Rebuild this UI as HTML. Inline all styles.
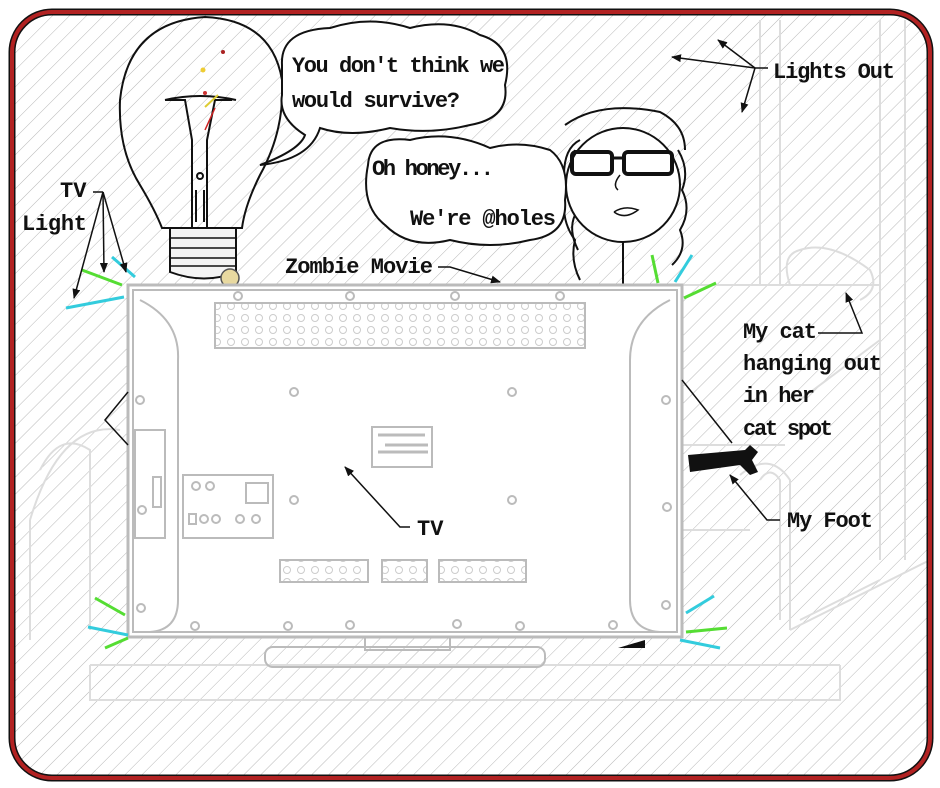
<!DOCTYPE html>
<html><head><meta charset="utf-8"><style>
html,body{margin:0;padding:0;background:#fff;}
svg{display:block}
text{font-family:"Liberation Mono","DejaVu Sans Mono",monospace;font-size:22px;fill:#111;font-weight:bold;}
</style></head><body>
<svg width="940" height="788" viewBox="0 0 940 788" xmlns="http://www.w3.org/2000/svg">
<defs>
<pattern id="h" width="12" height="12" patternUnits="userSpaceOnUse" patternTransform="rotate(45)">
<line x1="0" y1="0" x2="0" y2="12" stroke="#b8b8b8" stroke-width="1"/>
</pattern>
<pattern id="dots" width="14" height="12" patternUnits="userSpaceOnUse">
<circle cx="7" cy="6" r="3.5" fill="none" stroke="#ccc" stroke-width="1"/>
</pattern>
<marker id="a" markerWidth="10" markerHeight="8" refX="9" refY="4" orient="auto" markerUnits="userSpaceOnUse">
<path d="M0,0 L10,4 L0,8 z" fill="#111"/>
</marker>
</defs>
<rect x="0" y="0" width="940" height="788" fill="#fff"/>
<rect x="12" y="12" width="918" height="766" rx="40" fill="url(#h)"/>
<g fill="none" stroke="#ddd" stroke-width="2">
<path d="M30,520 L30,640 M30,520 Q60,420 120,430"/>
<path d="M40,470 Q60,430 90,450 L90,630"/>
<path d="M880,20 L880,560 M905,20 L905,560 M760,20 L760,285 M780,20 L780,285"/>
<path d="M680,285 L880,285"/>
<path d="M740,475 Q770,450 790,480 L790,630 M760,480 Q770,465 780,480 L780,620"/>
<path d="M680,445 L785,445 M680,530 L750,530"/>
<path d="M90,665 L90,700 L840,700 L840,665 M90,665 L840,665"/>
<path d="M800,400 L880,340 M800,620 L880,580 M790,630 L930,560"/>
</g>
<path d="M790,285 Q780,255 800,250 Q830,240 870,270 Q880,290 860,300" fill="none" stroke="#ddd" stroke-width="2"/>
<rect x="12" y="12" width="918" height="766" rx="40" fill="none" stroke="#111" stroke-width="7"/>
<rect x="12" y="12" width="918" height="766" rx="40" fill="none" stroke="#b22222" stroke-width="4"/>

<!-- bulb -->
<g fill="#fff" stroke="#111" stroke-width="2">
<path d="M162,228 Q155,210 140,185 Q118,150 120,100 Q128,22 205,17 Q272,20 282,80 Q285,130 260,175 Q245,205 242,228 Z" fill="none"/>
<path d="M165,100 L185,100 L192,140 L192,230 M232,100 L215,100 L207,140 L207,230" fill="none"/>
<path d="M165,100 Q200,92 236,100" fill="none"/>
<circle cx="200" cy="176" r="3" fill="none"/>
<line x1="196" y1="190" x2="196" y2="222"/><line x1="204" y1="190" x2="204" y2="222"/>
<path d="M170,228 L236,228 L236,272 Q205,285 170,272 Z" fill="#f4f4f4"/>
<path d="M170,238 L236,238 M170,248 L236,248 M170,258 L236,258 M170,266 L236,266" fill="none" stroke-width="1.5"/>
</g>
<circle cx="230" cy="278" r="9" fill="#e8d9a0" stroke="#555" stroke-width="1.5"/>
<g stroke="#c22" stroke-width="1.5"><line x1="205" y1="130" x2="215" y2="108"/></g>
<circle cx="223" cy="52" r="2" fill="#a22"/><circle cx="203" cy="70" r="2.5" fill="#ec3"/><circle cx="205" cy="93" r="2" fill="#c33"/>
<line x1="205" y1="107" x2="218" y2="95" stroke="#dc3" stroke-width="2"/>

<path d="M282,65 Q280,30 330,28 Q370,15 410,28 Q450,18 480,35 Q515,45 505,85 Q510,118 470,125 Q430,135 390,128 Q350,138 320,128 Q310,160 260,165 Q300,150 305,135 Q278,118 282,95 Z" fill="#fff" stroke="#111" stroke-width="2"/>
<text x="292" y="72" textLength="213">You don't think we</text>
<text x="292" y="107" textLength="168">would survive?</text>

<!-- hair -->
<g fill="none" stroke="#111" stroke-width="2">
<path d="M580,140 Q560,150 565,190 Q560,220 575,240 Q570,260 580,280"/>
<path d="M575,150 Q568,170 575,185 Q565,200 575,215 Q568,230 578,250"/>
<path d="M678,150 Q690,170 682,190 Q692,210 680,230 Q688,250 672,265"/>
<path d="M565,125 Q600,100 660,112 Q685,125 685,150"/>
</g>
<path d="M368,165 Q370,135 410,140 Q450,130 490,148 Q520,140 550,150 Q570,165 565,200 Q568,235 530,240 Q490,250 450,240 Q410,250 385,225 Q360,205 368,165 Z" fill="#fff" stroke="#111" stroke-width="2"/>
<text x="372" y="175" textLength="122">Oh honey...</text>
<text x="410" y="225" textLength="146">We're @holes</text>
<circle cx="623" cy="185" r="57" fill="#fff" stroke="#111" stroke-width="2"/>
<rect x="572" y="152" width="40" height="22" rx="4" fill="none" stroke="#111" stroke-width="4"/>
<rect x="624" y="152" width="48" height="22" rx="4" fill="none" stroke="#111" stroke-width="4"/>
<line x1="612" y1="158" x2="624" y2="158" stroke="#111" stroke-width="3"/>
<path d="M620,175 Q612,185 618,190" fill="none" stroke="#111" stroke-width="1.5"/>
<path d="M614,212 Q625,205 638,210 Q625,220 614,212" fill="none" stroke="#111" stroke-width="1.5"/>
<line x1="623" y1="242" x2="623" y2="285" stroke="#111" stroke-width="2"/>

<!-- TV -->
<rect x="128" y="285" width="554" height="352" fill="#fff" stroke="#bbb" stroke-width="3"/>
<rect x="133" y="290" width="544" height="342" fill="none" stroke="#bbb" stroke-width="2"/>
<path d="M140,300 Q180,320 178,360 L178,600 Q178,630 150,632" fill="none" stroke="#bbb" stroke-width="2"/>
<path d="M670,300 Q630,320 630,360 L630,600 Q630,630 660,632" fill="none" stroke="#bbb" stroke-width="2"/>
<rect x="215" y="303" width="370" height="45" fill="url(#dots)" stroke="#bbb" stroke-width="2"/>
<rect x="135" y="430" width="30" height="108" fill="none" stroke="#bbb" stroke-width="2"/>
<rect x="153" y="477" width="8" height="30" fill="none" stroke="#bbb" stroke-width="2"/>
<rect x="183" y="475" width="90" height="63" fill="none" stroke="#bbb" stroke-width="2"/>
<rect x="246" y="483" width="22" height="20" fill="none" stroke="#bbb" stroke-width="2"/>
<g fill="none" stroke="#bbb" stroke-width="2"><circle cx="196" cy="486" r="4"/><circle cx="210" cy="486" r="4"/><circle cx="204" cy="519" r="4"/><circle cx="216" cy="519" r="4"/><circle cx="240" cy="519" r="4"/><circle cx="256" cy="519" r="4"/><rect x="189" y="514" width="7" height="10"/></g>
<rect x="372" y="427" width="60" height="40" fill="none" stroke="#bbb" stroke-width="2"/>
<g stroke="#bbb" stroke-width="3"><line x1="378" y1="435" x2="425" y2="435"/><line x1="385" y1="445" x2="428" y2="445"/><line x1="378" y1="452" x2="428" y2="452"/></g>
<rect x="280" y="560" width="88" height="22" fill="url(#dots)" stroke="#bbb" stroke-width="2"/>
<rect x="382" y="560" width="45" height="22" fill="url(#dots)" stroke="#bbb" stroke-width="2"/>
<rect x="439" y="560" width="87" height="22" fill="url(#dots)" stroke="#bbb" stroke-width="2"/>
<g fill="none" stroke="#bbb" stroke-width="2">
<circle cx="238" cy="296" r="4"/><circle cx="350" cy="296" r="4"/><circle cx="455" cy="296" r="4"/><circle cx="560" cy="296" r="4"/>
<circle cx="294" cy="392" r="4"/><circle cx="512" cy="392" r="4"/><circle cx="294" cy="500" r="4"/><circle cx="512" cy="500" r="4"/>
<circle cx="140" cy="400" r="4"/><circle cx="142" cy="510" r="4"/><circle cx="141" cy="608" r="4"/>
<circle cx="666" cy="400" r="4"/><circle cx="667" cy="507" r="4"/><circle cx="666" cy="605" r="4"/>
<circle cx="195" cy="626" r="4"/><circle cx="288" cy="626" r="4"/><circle cx="350" cy="625" r="4"/><circle cx="457" cy="624" r="4"/><circle cx="520" cy="626" r="4"/><circle cx="613" cy="625" r="4"/>
<rect x="265" y="647" width="280" height="20" rx="8"/>
<path d="M365,637 L365,650 L450,650 L450,637"/>
</g>
<path d="M618,648 L645,640 L645,648 Z" fill="#111"/>

<path d="M688,455 L745,450 L750,445 L758,452 L752,460 L758,472 L750,475 L740,465 L690,472 Z" fill="#111"/>

<g stroke-width="3">
<line x1="82" y1="270" x2="122" y2="285" stroke="#5d3"/><line x1="112" y1="257" x2="135" y2="277" stroke="#3cd"/><line x1="66" y1="308" x2="124" y2="297" stroke="#3cd"/>
<line x1="652" y1="255" x2="658" y2="283" stroke="#5d3"/><line x1="692" y1="255" x2="675" y2="282" stroke="#3cd"/><line x1="684" y1="298" x2="716" y2="283" stroke="#5d3"/>
<line x1="95" y1="598" x2="125" y2="615" stroke="#5d3"/><line x1="88" y1="627" x2="128" y2="635" stroke="#3cd"/><line x1="105" y1="648" x2="128" y2="638" stroke="#5d3"/>
<line x1="686" y1="613" x2="714" y2="596" stroke="#3cd"/><line x1="686" y1="632" x2="727" y2="628" stroke="#5d3"/><line x1="680" y1="640" x2="720" y2="648" stroke="#3cd"/>
</g>

<g stroke="#111" stroke-width="1.5" fill="none">
<path d="M93,192 L103,192" /><line x1="103" y1="192" x2="74" y2="298" marker-end="url(#a)"/>
<line x1="103" y1="192" x2="104" y2="272" marker-end="url(#a)"/><line x1="103" y1="192" x2="126" y2="272" marker-end="url(#a)"/>
<path d="M438,267 L450,267 L500,282" marker-end="url(#a)"/>
<path d="M768,68 L755,68 L672,57" marker-end="url(#a)"/><line x1="755" y1="68" x2="718" y2="40" marker-end="url(#a)"/><line x1="755" y1="68" x2="742" y2="112" marker-end="url(#a)"/>
<path d="M818,333 L862,333 L846,293" marker-end="url(#a)"/>
<path d="M780,520 L767,520 L730,475" marker-end="url(#a)"/>
<path d="M410,527 L400,527 L345,467" marker-end="url(#a)"/>
<path d="M682,380 L732,443"/>
<path d="M128,392 L105,420 L128,445"/>
</g>
<text x="60" y="197">TV</text>
<text x="22" y="230" textLength="65">Light</text>
<text x="285" y="273" textLength="148">Zombie Movie</text>
<text x="773" y="78" textLength="122">Lights Out</text>
<text x="743" y="338" textLength="74">My cat</text>
<text x="743" y="370" textLength="139">hanging out</text>
<text x="743" y="402" textLength="72">in her</text>
<text x="743" y="435" textLength="90">cat spot</text>
<text x="787" y="527" textLength="86">My Foot</text>
<text x="417" y="535">TV</text>
</svg>
</body></html>
